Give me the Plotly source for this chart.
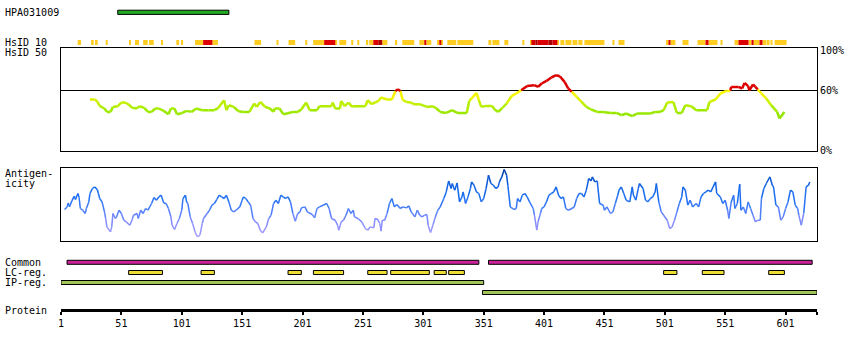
import plotly.graph_objects as go

# ---------------- data ----------------
PROTEIN_LENGTH = 627
HPA_NAME = "HPA031009"
HPA_SEGMENT = [(48, 140)]

HSID10_YELLOW = [(14.8, 17.6), (25.9, 28.1), (29.8, 31.4), (38.0, 39.7), (57.4, 59.0), (62.3, 65.6),
                 (69.0, 72.8), (73.9, 77.8), (83.9, 85.5), (96.5, 98.8), (100.4, 102.1), (112.0, 118.7),
                 (126.4, 130.9), (161.2, 166.7), (179.4, 181.1), (189.4, 194.9), (203.2, 204.9),
                 (209.8, 218.9), (228.1, 229.7), (231.4, 237.2), (241.3, 243.0), (246.3, 248.0),
                 (253.8, 255.4), (256.2, 259.6), (267.0, 271.2), (277.8, 279.4), (283.6, 293.5),
                 (297.7, 301.8), (303.5, 307.6), (312.6, 314.2), (315.9, 316.7), (320.9, 328.3),
                 (329.2, 342.4), (354.9, 357.3), (358.2, 364.0), (368.1, 371.4), (383.0, 384.7),
                 (389.7, 390.5), (412.0, 412.9), (414.5, 417.8), (418.7, 423.6), (424.5, 428.6),
                 (429.4, 432.8), (434.4, 451.0), (457.6, 459.3), (462.6, 467.6), (502.4, 504.0),
                 (505.7, 509.8), (515.6, 520.6), (528.1, 534.7), (537.2, 544.6), (547.1, 548.8),
                 (558.7, 562.0), (570.3, 572.8), (574.5, 579.4), (581.9, 585.2), (586.1, 587.7),
                 (588.5, 590.2), (591.9, 601.8)]
HSID10_RED = [(118.7, 126.4), (218.9, 228.1), (259.6, 263.7), (301.8, 303.5), (314.2, 315.9),
              (390.5, 393.8), (395.5, 404.6), (407.9, 412.0), (504.0, 505.7), (534.7, 537.2),
              (562.0, 570.3), (572.8, 574.5), (579.4, 581.9)]
HSID10_DARKRED = [(263.7, 267.0), (393.8, 395.5), (404.6, 407.9)]

HSID50_POS = [25, 29, 31, 33, 37, 39, 42, 44, 48, 51, 54, 57, 60, 64, 66, 70, 73, 76, 79, 82, 86, 90,
              92, 95, 97, 101, 105, 109, 113, 118, 123, 128, 131, 136, 138, 140, 144, 148, 152, 157,
              161, 163, 166, 170, 174, 177, 178, 182, 185, 189, 193, 197, 200, 204, 207, 213, 215,
              225, 226, 228, 232, 233, 236, 239, 242, 243, 253, 255, 258, 261, 264, 266, 271, 275,
              278, 280, 282, 284, 287, 291, 293, 298, 304, 309, 312, 315, 320, 325, 329, 337, 339,
              341, 345, 347, 349, 353, 358, 360, 363, 366, 370, 374, 378, 382, 387, 393, 396, 399,
              403, 407, 411, 414, 418, 421, 424, 428, 432, 436, 440, 445, 450, 456, 461, 465, 469,
              474, 478, 489, 493, 497, 500, 503, 508, 511, 515, 518, 523, 527, 536, 538, 543, 547,
              552, 555, 556, 562, 565, 567, 570, 571, 574, 576, 578, 581, 585, 589, 594, 596, 600]
HSID50_VAL = [51, 51, 49, 44.6, 42, 38.6, 38.6, 43.6, 44.3, 48, 48, 46, 42.6, 42.3, 44.3, 42.6, 38.6,
              38.6, 42, 42, 39.6, 36.3, 42, 42, 36.3, 37.3, 39.6, 38.6, 42, 40.3, 40.3, 40.3, 42.3,
              50.3, 40.3, 45.3, 43.6, 39.3, 38.6, 38.6, 47, 43.6, 48.6, 43.6, 42, 38.6, 42, 42, 36.3,
              37.3, 38.6, 38.6, 41, 48, 40.3, 40.3, 44.3, 44.3, 48, 42, 42, 49.6, 44.3, 48, 43.6,
              44.3, 44.3, 50.3, 46.3, 48, 49.6, 53, 51, 51, 59.6, 61.3, 59.6, 50.3, 48.6, 48, 46.3,
              46.3, 43.6, 44.3, 42, 38.6, 37.6, 40.3, 37.6, 37.6, 49.6, 52, 57.6, 50.3, 43.6, 44.6,
              44.6, 41, 38.6, 42, 47, 54.3, 57, 60.3, 64.6, 65.3, 63.6, 67, 69.6, 73, 75.3, 74.3,
              68.6, 62, 58.6, 53.6, 48.6, 43.6, 41, 38.6, 38.6, 37.6, 37.6, 35.3, 37, 34.3, 37, 37,
              38.6, 38.6, 40.3, 48, 48.6, 37.6, 37.6, 45.3, 44.3, 40.3, 40.3, 48.6, 51, 57, 59.6,
              59.6, 63.6, 63.6, 62, 67.6, 64.3, 60.2, 66, 63.6, 61, 57, 52, 45.3, 38.6, 32, 38.6]

ANTIGEN_POS = [4, 6, 7, 8, 10, 12, 13, 15, 16, 17, 19, 21, 22, 24, 25, 27, 29, 31, 32, 33, 35, 37, 38,
               39, 42, 43, 44, 46, 47, 49, 51, 53, 55, 58, 60, 61, 64, 65, 67, 69, 71, 73, 76, 78, 80,
               82, 84, 86, 88, 90, 92, 93, 95, 97, 99, 101, 102, 104, 105, 106, 108, 110, 112, 114,
               116, 118, 119, 122, 124, 126, 128, 130, 132, 134, 136, 138, 140, 142, 144, 146, 149,
               151, 152, 154, 156, 158, 160, 162, 164, 166, 168, 171, 173, 175, 177, 179, 181, 183,
               185, 187, 189, 191, 193, 195, 197, 199, 200, 203, 205, 209, 211, 213, 215, 218, 221,
               223, 225, 228, 230, 231, 233, 235, 237, 239, 241, 243, 244, 247, 250, 253, 255, 257,
               260, 261, 263, 265, 266, 267, 269, 271, 273, 275, 277, 279, 282, 284, 287, 289, 291,
               292, 294, 296, 298, 300, 302, 304, 305, 307, 309, 311, 313, 315, 318, 320, 322, 324,
               325, 327, 329, 331, 333, 334, 336, 338, 340, 341, 343, 345, 347, 349, 351, 353, 355,
               357, 359, 361, 363, 364, 366, 368, 370, 371, 373, 376, 378, 379, 381, 383, 385, 387,
               389, 392, 393, 395, 396, 398, 399, 401, 403, 405, 407, 409, 411, 413, 415, 417, 419,
               421, 424, 426, 428, 430, 432, 434, 436, 438, 440, 441, 443, 445, 447, 450, 451, 453,
               456, 458, 460, 462, 463, 465, 467, 469, 472, 474, 475, 477, 479, 480, 483, 485, 487,
               489, 491, 493, 494, 496, 498, 500, 503, 505, 507, 509, 511, 513, 515, 516, 518, 520,
               522, 524, 527, 529, 531, 533, 535, 537, 539, 541, 543, 544, 547, 549, 551, 553, 554,
               556, 558, 559, 561, 563, 564, 566, 568, 570, 572, 574, 576, 578, 580, 581, 583, 585,
               588, 590, 591, 593, 595, 597, 599, 601, 603, 605, 607, 609, 611, 612, 614, 616, 618,
               620, 621]
ANTIGEN_VAL = [31, 33.6, 37.6, 33.6, 39.6, 44.3, 41, 47, 43, 32, 30.3, 27, 32, 38.6, 47, 52, 53.6, 51,
               47, 42, 38.6, 28.6, 22, 13.6, 8.6, 13.6, 27, 22, 23.6, 30.3, 27, 20.3, 18.6, 15.3, 21,
               25.3, 27, 22, 30.3, 27, 32, 30.3, 37, 43, 40.3, 43.6, 45.3, 37.6, 37, 32, 23.6, 15.3,
               11, 17, 22, 30.3, 42, 45.3, 38.6, 37, 23.6, 17, 8.6, 3.6, 5.3, 17, 22, 27, 30.3, 35.3,
               37, 41, 45.3, 43.6, 42, 45.3, 38.6, 30.3, 28.6, 30.3, 33.6, 40.3, 43.6, 42, 38.6, 35.3,
               22, 18.6, 17, 10.3, 7.6, 13.6, 22, 25.3, 37, 40.3, 37, 45.3, 43.6, 42, 43.6, 38.6, 27,
               19.3, 27, 28.6, 32.6, 33.6, 28.6, 26, 22.6, 32, 33.6, 35.3, 37, 32, 22, 20.3, 15.3,
               10.3, 18.6, 20.3, 25.3, 32, 27, 30.3, 23.6, 22, 18.6, 12, 10.3, 13.6, 12.6, 22, 21.3,
               17, 9.3, 20.3, 20.3, 27, 37, 42, 33.6, 36, 32, 33.6, 32.6, 34.6, 28.6, 27, 23.6, 30.3,
               25.3, 23.6, 25.3, 26, 15.3, 8, 15.6, 23.6, 30.3, 33.6, 42, 48.6, 59.6, 52, 57, 50.3,
               57.6, 38.6, 43.6, 48.6, 37, 43.6, 52, 58.6, 55.3, 48.6, 47, 38.6, 42, 52, 65.3, 57,
               55.3, 52, 53.6, 58.6, 63.6, 71, 65.3, 55.3, 33.6, 31, 32, 42, 38.6, 45.3, 47, 43.6,
               38.6, 32, 25.3, 10.3, 18.6, 27, 32, 33.6, 38.6, 45.3, 47, 48.6, 53.6, 45.3, 42, 43.6,
               32, 30.3, 32, 33.6, 42, 47, 47, 43.6, 50.3, 62, 59.6, 63.6, 58.6, 59.6, 37, 35.3, 30.3,
               33.6, 27, 28.6, 37, 45.3, 50.3, 53.6, 47, 40.3, 38.6, 53.6, 45.3, 40.3, 52, 57, 52,
               40.3, 38.6, 42, 43.6, 48.6, 57, 38.6, 28.6, 25.3, 20.3, 12, 13.6, 20.3, 28.6, 37, 43.6,
               53.6, 50.3, 35.3, 40.3, 33.6, 37, 33.6, 43.6, 47, 48.6, 50.3, 48.6, 53.6, 58.6, 47,
               43.6, 37, 40.3, 30.3, 22, 38.6, 45.3, 32, 37, 56.3, 30.3, 33.6, 27, 38.6, 32, 25.3,
               18.6, 20.3, 20.3, 42, 52, 57, 63.6, 55.3, 53.6, 35.3, 33.6, 20.3, 23.6, 32, 38.6, 50.3,
               48.6, 35.3, 32, 25.3, 15.3, 27, 53.6, 55.3, 58.6]

COMMON = [(6, 347), (355, 623)]
LC_REG = [(57, 85), (117, 128), (189, 200), (210, 235), (255, 271), (274, 306), (310, 320),
          (322, 335), (500, 511), (532, 550), (587, 600)]
IP_REG_A = [(1, 351)]
IP_REG_B = [(350, 627)]

HSID50_TICKS = [0, 60, 100]
HSID50_TICKTEXT = ["0%", "60%", "100%"]
THRESHOLD = 60
PROTEIN_TICKS = [1, 51, 101, 151, 201, 251, 301, 351, 401, 451, 501, 551, 601]

LABELS = ["HPA031009", "HsID 10", "HsID 50", "Antigen-", "icity", "Common", "LC-reg.", "IP-reg.",
          "Protein"]

# ---------------- layout constants (pixels) ----------------
W, H = 850, 350
X0, X1 = 61, 817
FONT = "DejaVu Sans Mono"
LABEL_Y = [12.7, 42.7, 52.7, 173.3, 183.3, 262.5, 272.5, 282.5, 310]
HSID_BOX = (48, 150.5)
ANT_BOX = (168, 240.5)
AXIS_Y = 309


def lerp(stops, v):
    if v <= stops[0][0]:
        return stops[0][1]
    for (a, ca), (b, cb) in zip(stops, stops[1:]):
        if v <= b:
            t = (v - a) / (b - a)
            return tuple(round(ca[i] + (cb[i] - ca[i]) * t) for i in range(3))
    return stops[-1][1]


HSID_STOPS = [(32, (140, 228, 0)), (40, (158, 234, 0)), (48, (200, 240, 0)), (55, (245, 245, 0)),
              (59.5, (255, 250, 0))]
ANT_STOPS = [(0, (178, 168, 255)), (18, (135, 140, 255)), (32, (70, 125, 250)), (45, (25, 110, 240)),
             (58, (15, 95, 220)), (72, (0, 50, 150))]


def hsid_color(v):
    if v >= 59.8:
        return "rgb(221,0,0)"
    return "rgb(%d,%d,%d)" % lerp(HSID_STOPS, round(v))


def ant_color(v):
    return "rgb(%d,%d,%d)" % lerp(ANT_STOPS, round(v))


def colored_line(fig, xs, ys, colfn, width, xa, ya):
    groups = {}
    for i in range(len(xs) - 1):
        c = colfn((ys[i] + ys[i + 1]) / 2)
        gx, gy = groups.setdefault(c, ([], []))
        gx += [xs[i], xs[i + 1], None]
        gy += [ys[i], ys[i + 1], None]
    for c, (gx, gy) in groups.items():
        fig.add_trace(go.Scatter(x=gx, y=gy, mode="lines", line=dict(color=c, width=width),
                                 xaxis=xa, yaxis=ya, hoverinfo="skip", connectgaps=False))


def add_bars(fig, segs, row_y, h, fill, outline=True):
    fig.add_trace(go.Bar(orientation="h", base=[s for s, e in segs], x=[e - s for s, e in segs],
                         y=[row_y] * len(segs), width=h,
                         marker=dict(color=fill, line=dict(color="black", width=1 if outline else 0)),
                         xaxis="x", yaxis="y", hoverinfo="skip"))


fig = go.Figure()

# tracks
add_bars(fig, HPA_SEGMENT, 12.3, 4.2, "#22aa22")
add_bars(fig, HSID10_YELLOW, 42.5, 5, "#ffcc22", outline=False)
add_bars(fig, HSID10_RED, 42.5, 5, "#dd0000", outline=False)
add_bars(fig, HSID10_DARKRED, 42.5, 5, "#aa0000", outline=False)
add_bars(fig, COMMON, 262.3, 4, "#cc2299")
add_bars(fig, LC_REG, 272.5, 4, "#eedd33")
add_bars(fig, IP_REG_A, 282.5, 4, "#a0c456")
add_bars(fig, IP_REG_B, 292.5, 4, "#a0c456")

colored_line(fig, HSID50_POS, HSID50_VAL, hsid_color, 2.5, "x", "y2")
colored_line(fig, ANTIGEN_POS, ANTIGEN_VAL, ant_color, 1.5, "x2", "y3")
fig.add_trace(go.Scatter(x=[], y=[], xaxis="x3", yaxis="y4", mode="lines"))

def py(p):
    return (H - p) / H

dom_x = [X0 / W, X1 / W]
common_ax = dict(showgrid=False, zeroline=False, automargin=False)
fig.update_layout(
    width=W, height=H, margin=dict(l=0, r=0, t=0, b=0, pad=0, autoexpand=False),
    paper_bgcolor="white", plot_bgcolor="rgba(0,0,0,0)", showlegend=False, barmode="overlay",
    font=dict(family=FONT, size=10, color="black"),
    xaxis=dict(domain=dom_x, range=[1, PROTEIN_LENGTH], anchor="y2", showline=True, mirror=True,
               linecolor="black", linewidth=1, showticklabels=False, ticks="", **common_ax),
    xaxis2=dict(domain=dom_x, matches="x", anchor="y3", showline=True, mirror=True,
                linecolor="black", linewidth=1, showticklabels=False, ticks="", **common_ax),
    xaxis3=dict(domain=dom_x, matches="x", anchor="y4", showline=True, linecolor="black",
                linewidth=3, ticks="outside", ticklen=3, tickwidth=2, tickcolor="black",
                tickvals=PROTEIN_TICKS + [PROTEIN_LENGTH],
                ticktext=[str(t) for t in PROTEIN_TICKS] + [""],
                tickfont=dict(family=FONT, size=10), **common_ax),
    yaxis=dict(domain=[0, 1], range=[H, 0], anchor="free", position=0, visible=False, **common_ax),
    yaxis2=dict(domain=[py(HSID_BOX[1]), py(HSID_BOX[0])], range=[0, HSID_BOX[1] - HSID_BOX[0]],
                anchor="x", side="right", showline=True, mirror=True, linecolor="black",
                linewidth=1, tickvals=HSID50_TICKS, ticktext=HSID50_TICKTEXT, ticks="",
                tickfont=dict(family=FONT, size=10), **common_ax),
    yaxis3=dict(domain=[py(ANT_BOX[1]), py(ANT_BOX[0])], range=[0, ANT_BOX[1] - ANT_BOX[0]],
                anchor="x2", showline=True, mirror=True, linecolor="black", linewidth=1,
                showticklabels=False, ticks="", **common_ax),
    yaxis4=dict(domain=[py(AXIS_Y), py(AXIS_Y - 8)], range=[0, 1], anchor="x3", visible=False,
                **common_ax),
)

fig.add_shape(type="line", xref="x domain", yref="y2", x0=0, x1=1, y0=THRESHOLD, y1=THRESHOLD,
              line=dict(color="black", width=1), layer="below")

for text, ly in zip(LABELS, LABEL_Y):
    fig.add_annotation(text=text, xref="paper", yref="y", x=3 / W, y=ly, xanchor="left",
                       yanchor="middle", showarrow=False, font=dict(family=FONT, size=10))

fig.write_html("out.html")
